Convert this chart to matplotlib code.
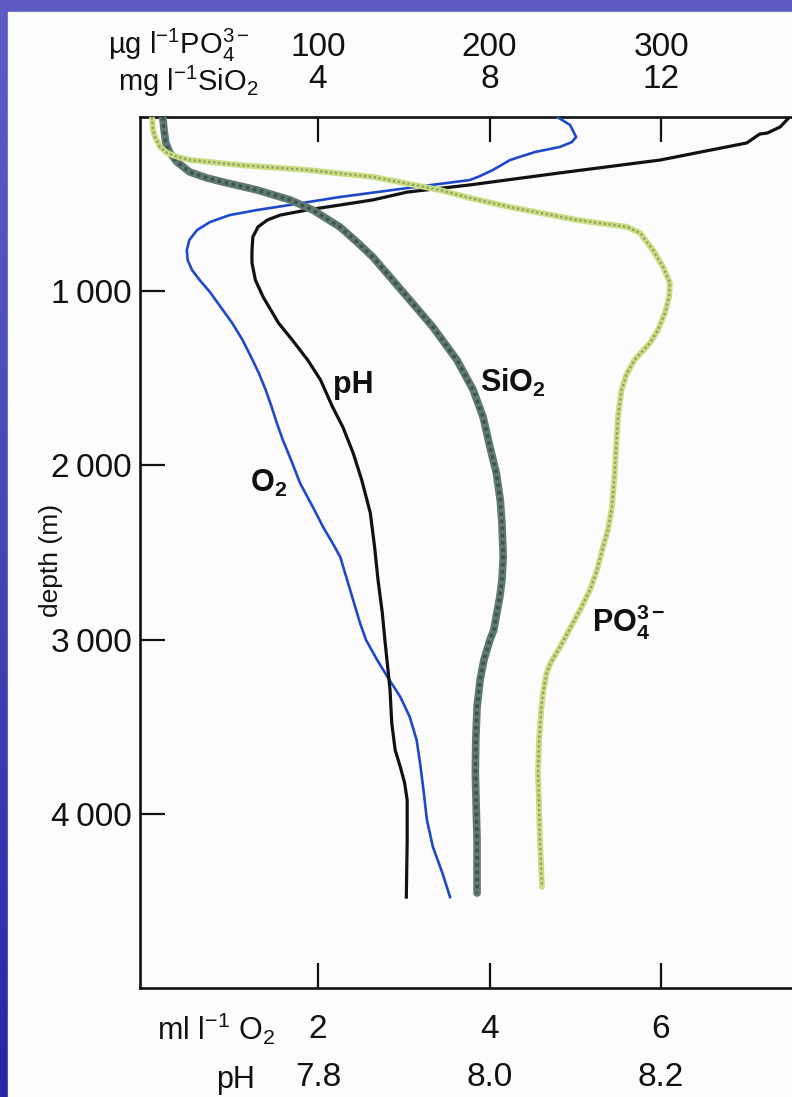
import matplotlib
matplotlib.use('Agg')
import matplotlib.pyplot as plt
import numpy as np
from matplotlib.patches import Rectangle

plt.rcParams['font.family'] = ['Liberation Sans', 'DejaVu Sans']
plt.rcParams['mathtext.fontset'] = 'custom'
plt.rcParams['mathtext.rm'] = 'Liberation Sans'
plt.rcParams['mathtext.it'] = 'Liberation Sans'
plt.rcParams['mathtext.bf'] = 'Liberation Sans:bold'

# oxygen, ml/l
o2_depth = [0, 46, 115, 144, 172, 201, 247, 304, 339, 362, 408, 459, 505, 534, 563, 603,
            649, 706, 764, 821, 878, 936, 1005, 1108, 1183, 1280, 1378, 1470, 1567, 1665,
            1757, 1854, 1986, 2101, 2239, 2354, 2446, 2526, 2658, 2773, 2905, 3002, 3117,
            3214, 3329, 3444, 3576, 3708, 3863, 4035, 4190, 4339, 4478]
o2_value = [4.79, 4.94, 5.01, 4.96, 4.82, 4.53, 4.24, 4.04, 3.89, 3.77, 3.04, 2.26, 1.67,
            1.29, 0.97, 0.74, 0.59, 0.50, 0.47, 0.48, 0.53, 0.62, 0.74, 0.89, 1.00, 1.12,
            1.22, 1.31, 1.39, 1.46, 1.52, 1.59, 1.70, 1.79, 1.94, 2.06, 2.17, 2.26, 2.34,
            2.41, 2.49, 2.56, 2.69, 2.81, 2.96, 3.07, 3.15, 3.19, 3.23, 3.27, 3.34, 3.45,
            3.54]

# pH
ph_depth = [0, 57, 92, 98, 149, 247, 321, 390, 431, 476, 505, 534, 563, 591, 631, 689,
            764, 838, 936, 1033, 1183, 1280, 1395, 1510, 1665, 1780, 1929, 2084, 2273, 2468,
            2658, 2847, 3002, 3192, 3289, 3479, 3634, 3731, 3823, 3921, 4150, 4478]
ph_value = [8.350, 8.339, 8.324, 8.315, 8.300, 8.199, 8.082, 7.977, 7.904, 7.864, 7.826,
            7.787, 7.756, 7.741, 7.730, 7.724, 7.723, 7.723, 7.727, 7.736, 7.754, 7.770,
            7.788, 7.803, 7.817, 7.829, 7.841, 7.851, 7.861, 7.866, 7.870, 7.875, 7.878,
            7.882, 7.884, 7.886, 7.890, 7.896, 7.901, 7.904, 7.904, 7.903]

# silica, mg/l
si_depth = [0, 75, 149, 207, 258, 316, 350, 373, 419, 476, 534, 631, 718, 804, 1033, 1206,
            1395, 1567, 1722, 1894, 2044, 2199, 2331, 2526, 2658, 2755, 2945, 3002, 3117,
            3232, 3387, 3576, 3766, 3961, 4150, 4455]
si_value = [0.38, 0.41, 0.45, 0.55, 0.71, 1.01, 1.41, 1.78, 2.58, 3.35, 3.88, 4.51, 4.91,
            5.28, 6.08, 6.68, 7.24, 7.62, 7.85, 8.01, 8.16, 8.25, 8.29, 8.32, 8.29, 8.24,
            8.10, 8.01, 7.87, 7.78, 7.71, 7.68, 7.67, 7.69, 7.71, 7.71]

# phosphate, ug/l
po_depth = [0, 75, 115, 172, 207, 230, 247, 276, 304, 344, 419, 465, 517, 591, 631, 666,
            764, 861, 953, 1033, 1125, 1223, 1297, 1395, 1480, 1567, 1722, 1854, 2044, 2239,
            2371, 2468, 2600, 2715, 2830, 2905, 3043, 3134, 3192, 3307, 3387, 3576, 3766,
            3961, 4150, 4420]
po_value = [3.2, 3.8, 5.0, 7.9, 12.0, 18.4, 25.4, 54.5, 93.6, 132.1, 171.1, 188.6, 212.0,
            251.0, 280.2, 287.8, 295.3, 301.2, 305.2, 304.7, 302.3, 298.2, 293.6, 284.5,
            279.8, 277.0, 274.9, 274.1, 273.0, 271.4, 269.0, 266.2, 262.7, 258.6, 252.8,
            248.7, 241.1, 235.6, 233.3, 231.2, 230.3, 228.9, 228.3, 228.9, 229.4, 230.6]

depth_ticks = [1000, 2000, 3000, 4000]
depth_labels = ['1\u2009000', '2\u2009000', '3\u2009000', '4\u2009000']
o2_ticks = [2, 4, 6]
ph_ticks = [7.8, 8.0, 8.2]
si_ticks = [4, 8, 12]
po_ticks = [100, 200, 300]

W, H = 792, 1097
fig = plt.figure(figsize=(W / 100, H / 100), dpi=100)

# blue slide background with the paper sheet on top
bg = fig.add_axes([0, 0, 1, 1])
grad = np.linspace(0, 1, 256).reshape(-1, 1)
cmap = matplotlib.colors.LinearSegmentedColormap.from_list('slide', ['#5d5bc4', '#4646b8', '#2626a6'])
bg.imshow(grad, aspect='auto', cmap=cmap, extent=[0, 1, 0, 1], origin='upper')
bg.add_patch(Rectangle((8 / W, 0), 1, 1 - 12 / H, color='#fcfcfc', zorder=2))
bg.set_xlim(0, 1)
bg.set_ylim(0, 1)
bg.axis('off')

left, right, top, bottom = 140, 792, 117, 988
ax = fig.add_axes([left / W, 1 - bottom / H, (right - left) / W, (bottom - top) / H])
ax.patch.set_alpha(0)

o2_lo = (left - 146.5) / 85.75
o2_hi = (right - 146.5) / 85.75
ax.set_xlim(o2_lo, o2_hi)
ax.set_ylim(5000, 0)

ax_ph = ax.twiny()
ax_ph.set_xlim(7.6 + 0.1 * o2_lo, 7.6 + 0.1 * o2_hi)
ax_si = ax.twiny()
ax_si.set_xlim(2 * o2_lo, 2 * o2_hi)
ax_po = ax.twiny()
ax_po.set_xlim(50 * o2_lo, 50 * o2_hi)

# curves
ax_po.plot(po_value, po_depth, color='#cadd7e', lw=4.2, solid_joinstyle='round', solid_capstyle='round', zorder=2)
ax_po.plot(po_value, po_depth, color='#8c9c6e', lw=1.6, ls=(0, (1, 1.2)), zorder=3)
ax_si.plot(si_value, si_depth, color='#5f7a72', lw=5.5, solid_joinstyle='round', solid_capstyle='round', zorder=4)
ax_si.plot(si_value, si_depth, color='#33443f', lw=2.6, ls=(0, (1, 1)), alpha=0.7, zorder=5)
ax.plot(o2_value, o2_depth, color='#1f49cc', lw=1.9, solid_joinstyle='round', zorder=6)
ax_ph.plot(ph_value, ph_depth, color='#111111', lw=2.3, solid_joinstyle='round', zorder=7)

for a in (ax, ax_ph, ax_si, ax_po):
    for side in ('left', 'right', 'top', 'bottom'):
        a.spines[side].set_visible(False)

for side in ('left', 'top', 'bottom'):
    ax.spines[side].set_visible(True)
    ax.spines[side].set_linewidth(1.9)
    ax.spines[side].set_color('#111111')

tick_font = 24

ax.set_yticks(depth_ticks)
ax.set_yticklabels(depth_labels)
ax.tick_params(axis='y', direction='in', length=18, width=1.6, pad=6, labelsize=tick_font, colors='#111111')
ax.set_xticks(o2_ticks)
ax.set_xticklabels([str(v) for v in o2_ticks])
ax.tick_params(axis='x', direction='in', length=18, width=1.6, pad=19, labelsize=tick_font, colors='#111111')

ax_ph.xaxis.set_ticks_position('bottom')
ax_ph.xaxis.set_label_position('bottom')
ax_ph.set_xticks(ph_ticks)
ax_ph.set_xticklabels(['%.1f' % v for v in ph_ticks])
ax_ph.tick_params(axis='x', length=0, pad=53, labelsize=tick_font, colors='#111111')

ax_si.set_xticks(si_ticks)
ax_si.set_xticklabels([str(v) for v in si_ticks])
ax_si.tick_params(axis='x', direction='in', length=18, width=1.6, pad=16, labelsize=tick_font, colors='#111111')

ax_po.set_xticks(po_ticks)
ax_po.set_xticklabels([str(v) for v in po_ticks])
ax_po.tick_params(axis='x', length=0, pad=39, labelsize=tick_font, colors='#111111')

ax.set_ylabel('depth (m)', fontsize=19, color='#111111')
ax.yaxis.set_label_coords(-0.118, 0.491)


def fx(px):
    return px / W


def fy(py):
    return 1 - py / H


fig.text(fx(250), fy(54), 'µg l$^{-1}$PO$_4^{3-}$', fontsize=21, ha='right', va='baseline', color='#111111')
fig.text(fx(258), fy(91), 'mg l$^{-1}$SiO$_2$', fontsize=21, ha='right', va='baseline', color='#111111')
fig.text(fx(275), fy(1040), 'ml l$^{-1}$ O$_2$', fontsize=22, ha='right', va='baseline', color='#111111')
fig.text(fx(255), fy(1088), 'pH', fontsize=22, ha='right', va='baseline', color='#111111')

# curve names
lab = dict(fontsize=22, fontweight='bold', color='#111111', va='baseline', ha='left')
fig.text(fx(333), fy(393), 'pH', **lab)
fig.text(fx(480), fy(392), r'SiO$_\mathbf{2}$', **lab)
fig.text(fx(250), fy(492), r'O$_\mathbf{2}$', **lab)
fig.text(fx(592), fy(632), r'PO$_\mathbf{4}^\mathbf{3-}$', **lab)

fig.savefig('out.png', dpi=100)
